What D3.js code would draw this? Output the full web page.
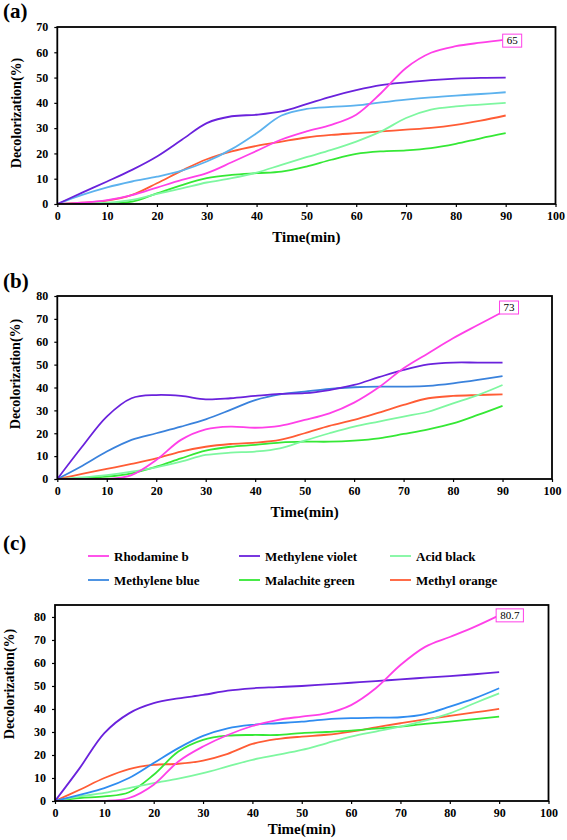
<!DOCTYPE html>
<html><head><meta charset="utf-8">
<script src="https://cdn.jsdelivr.net/npm/d3@7"></script>
<style>
body{margin:0;background:#fff} svg{display:block}
</style>
</head><body>
<svg id="chart" width="567" height="840"></svg>
<script>
// ---------- DATA ----------
const times = [0,5,10,15,20,25,30,35,40,45,50,55,60,65,70,75,80,85,90];
const xTicks = [0,10,20,30,40,50,60,70,80,90,100];
const yTicksA = [0,10,20,30,40,50,60,70];
const yTicksB = [0,10,20,30,40,50,60,70,80];
const yTicksC = [0,10,20,30,40,50,60,70,80];
const seriesNames = ["Rhodamine b","Methylene violet","Acid black","Methylene blue","Malachite green","Methyl orange"];
const endLabels = ["65","73","80.7"];

// Panel (a)
const rhodamineA = [0,0.5,1.5,3.5,6.5,9.5,12.2,16.5,21,25.5,28.7,31.3,35.3,43.9,53.8,59.8,62.4,63.8,65];
const violetA    = [0,4.5,8.9,13.5,18.8,25.4,32,34.7,35.3,36.6,39.5,42.5,45,47,48.1,49,49.6,49.9,50];
const acidA      = [0,0.2,0.5,1.6,4,6.2,8.5,10.2,12.4,15.5,18.5,21.4,24.7,28.7,34,37.3,38.6,39.3,40];
const blueA      = [0,3.6,6.6,8.9,10.8,13.2,16.8,21.7,28,35,37.6,38.4,39,40.2,41.3,42.2,42.9,43.5,44.2];
const malachiteA = [0,0,0.1,0.9,4.2,7.5,10.2,11.5,12.2,12.8,14.8,17.5,19.8,20.8,21.2,22.1,23.8,26,28];
const orangeA    = [0,0.5,1.3,3.6,8.2,13.2,17.7,20.8,23,24.7,26.3,27.3,28,28.7,29.4,30.1,31.3,33,35];

// Panel (b)
const rhodamineB = [0,0,0,1.7,8.3,17.1,21.7,22.9,22.4,23.2,25.8,28.7,33.4,40.1,48.4,55,61.5,67.3,73];
const violetB    = [0,14.1,27.3,35.3,36.7,36.3,34.8,35.3,36.3,37.2,37.5,38.9,41.1,44.5,47.7,50.1,50.9,50.9,50.9];
const acidB      = [0,0.7,1.7,3.2,5.1,7.6,10.5,11.5,12,13.4,16.8,20,22.9,25.1,27.3,29.4,33.1,36.7,41.1];
const blueB      = [0,5.7,12,17.1,20,22.9,26.1,30.2,34.5,37,38.2,39.4,40.1,40.4,40.4,40.7,41.8,43.3,45];
const malachiteB = [0,0.3,1,2.5,5.4,9,12.4,14.1,14.9,15.9,16.3,16.3,16.8,17.8,19.7,21.7,24.3,28,32];
const orangeB    = [0,2.2,4.4,6.6,9,12,14.1,15.3,15.9,17.1,20,23.2,25.8,29,32.4,35.3,36.3,36.7,37];

// Panel (c)
const rhodamineC = [0,0,0,1.3,7.1,17.2,23.7,28.7,32.6,35.2,36.7,38.1,41.7,49,59.1,67,71.3,75.7,80.7];
const violetC    = [0,14.3,29.5,38.1,42.5,44.6,46.1,48,49,49.5,50,50.7,51.4,52.1,52.9,53.6,54.3,55.1,56];
const acidC      = [0,2,3.5,5.6,7.8,9.7,12.1,15,17.9,20,22.2,25.1,28,30.2,32.3,34.9,38.1,42.5,46.8];
const blueC      = [0,2.7,5.6,10,16.5,23,28.3,31.6,33.1,33.8,34.5,35.5,36,36.2,36.4,37.8,41,44.6,49];
const malachiteC = [0,1.3,2,3.8,11.4,21.5,26.6,28.4,28.7,28.7,29.5,30,30.6,31.5,32.3,33.5,34.5,35.6,36.7];
const orangeC    = [0,4.9,10,13.9,15.7,16.2,17.6,20.5,24.8,26.9,28,28.8,30.2,32,33.8,35.5,37,38.5,40];

// ---------- STYLE ----------
const colors = {
  "Rhodamine b":"#ff40e8",
  "Methylene violet":"#6a22dc",
  "Acid black":"#7ef7a0",
  "Methylene blue":"#3a88e0",
  "Malachite green":"#35e835",
  "Methyl orange":"#ff5c35"
};
const blueVariants = ["#5cb2ee","#3a82dc","#2f8cf0"];

// pick an installed serif face
function pickSerif(){
  const cands = ["Liberation Serif","Tinos","Times New Roman","Times","DejaVu Serif","Noto Serif"];
  const c = document.createElement("canvas").getContext("2d");
  const s = "Decolorization(%) 0123456789 Wmil";
  const w = f => { c.font = "bold 40px " + f; return c.measureText(s).width; };
  const wm = w("monospace"), ws = w("sans-serif");
  for (const f of cands){
    const a = w(`"${f}", monospace`), b = w(`"${f}", sans-serif`);
    if (Math.abs(a-b) < 0.01 && Math.abs(a-wm) > 0.01) return `"${f}"`;
  }
  return "serif";
}
const FONT = pickSerif() + ", serif";

const panels = [
  {tag:"(a)", tagY:18, left:57.3, right:555.5, top:27, bottom:204, yMax:70, yTicks:yTicksA,
   data:[rhodamineA,violetA,acidA,blueA,malachiteA,orangeA], xTitleY:242, yTitleX:16.5, yTitleY:113, labDy:1},
  {tag:"(b)", tagY:288, left:57.3, right:552, top:296, bottom:479, yMax:80, yTicks:yTicksB,
   data:[rhodamineB,violetB,acidB,blueB,malachiteB,orangeB], xTitleY:517, yTitleX:15, yTitleY:374, labDy:-4.5},
  {tag:"(c)", tagY:550, left:55, right:548.5, top:605, bottom:801, yMax:85.2, yTicks:yTicksC,
   data:[rhodamineC,violetC,acidC,blueC,malachiteC,orangeC], xTitleY:834, yTitleX:9, yTitleY:684, labDy:0}
];

const svg = d3.select("#chart");
const drawOrder = [5,4,2,3,1,0];

panels.forEach((p, pi) => {
  const x = d3.scaleLinear().domain([0,100]).range([p.left, p.right]);
  const y = d3.scaleLinear().domain([0,p.yMax]).range([p.bottom, p.top]);
  const g = svg.append("g");

  // panel tag
  g.append("text").attr("x",3).attr("y",p.tagY).text(p.tag)
    .style("font-family",FONT).style("font-weight","bold").style("font-size","21px").attr("fill","#000");

  const clipId = "clip"+pi;
  g.append("clipPath").attr("id",clipId).append("rect")
    .attr("x",p.left).attr("y",p.top).attr("width",p.right-p.left).attr("height",p.bottom-p.top);

  // axes
  const xAxis = d3.axisBottom(x).tickValues(xTicks).tickSize(3).tickPadding(4);
  const yAxis = d3.axisLeft(y).tickValues(p.yTicks).tickSize(3).tickPadding(6);
  const gx = g.append("g").attr("transform",`translate(0,${p.bottom})`).call(xAxis);
  const gy = g.append("g").attr("transform",`translate(${p.left},0)`).call(yAxis);
  [gx,gy].forEach(a => {
    a.attr("font-family",null).attr("font-size",null);
    a.select(".domain").remove();
    a.selectAll("line").attr("stroke","#000").attr("stroke-width",1.2);
    a.selectAll("text").style("font-family",FONT).style("font-weight","bold").style("font-size","12px").attr("fill","#000");
  });

  // lines
  const line = d3.line().x((d,i)=>x(times[i])).y(d=>y(d)).curve(d3.curveCatmullRom.alpha(0.5));
  const lg = g.append("g").attr("clip-path",`url(#${clipId})`);
  drawOrder.forEach(si => {
    const name = seriesNames[si];
    const col = name==="Methylene blue" ? blueVariants[pi] : colors[name];
    lg.append("path").datum(p.data[si]).attr("d",line)
      .attr("fill","none").attr("stroke",col).attr("stroke-width",1.8);
  });

  // frame
  g.append("rect").attr("x",p.left).attr("y",p.top).attr("width",p.right-p.left).attr("height",p.bottom-p.top)
    .attr("fill","none").attr("stroke","#000").attr("stroke-width",1.8);

  // end label box
  const rv = p.data[0][p.data[0].length-1];
  const lx = x(times[times.length-1]) - 3, ly = y(rv) + p.labDy;
  const box = g.append("rect");
  const lt = g.append("text").attr("x",lx+4).attr("y",ly).attr("dy","0.35em")
    .text(endLabels[pi]).style("font-family",FONT).style("font-size","11px").attr("fill","#000");
  const tw = lt.node().getComputedTextLength();
  box.attr("x",lx).attr("y",ly-6.5).attr("width",tw+8).attr("height",13)
    .attr("fill","#fff").attr("stroke","#ff40e8").attr("stroke-width",1);

  // axis titles
  g.append("text").attr("x",(p.left+p.right)/2).attr("y",p.xTitleY).attr("text-anchor","middle")
    .text("Time(min)").style("font-family",FONT).style("font-weight","bold").style("font-size","15px").attr("fill","#000");
  g.append("text").attr("transform",`translate(${p.yTitleX},${p.yTitleY}) rotate(-90)`)
    .attr("text-anchor","middle").attr("dy","0.35em")
    .text("Decolorization(%)").style("font-family",FONT).style("font-weight","bold").style("font-size","14px").attr("fill","#000");
});

// legend
const legCols = [88, 239, 390];
const legRows = [556, 580];
const legendOrder = ["Rhodamine b","Methylene violet","Acid black","Methylene blue","Malachite green","Methyl orange"];
const lgd = svg.append("g");
legendOrder.forEach((name,i) => {
  const cx = legCols[i%3], cy = legRows[Math.floor(i/3)];
  lgd.append("line").attr("x1",cx).attr("x2",cx+21).attr("y1",cy).attr("y2",cy)
    .attr("stroke",colors[name]).attr("stroke-width",1.8);
  lgd.append("text").attr("x",cx+26).attr("y",cy).attr("dy","0.35em").text(name)
    .style("font-family",FONT).style("font-weight","bold").style("font-size","13px").attr("fill","#000");
});
</script>
</body></html>
